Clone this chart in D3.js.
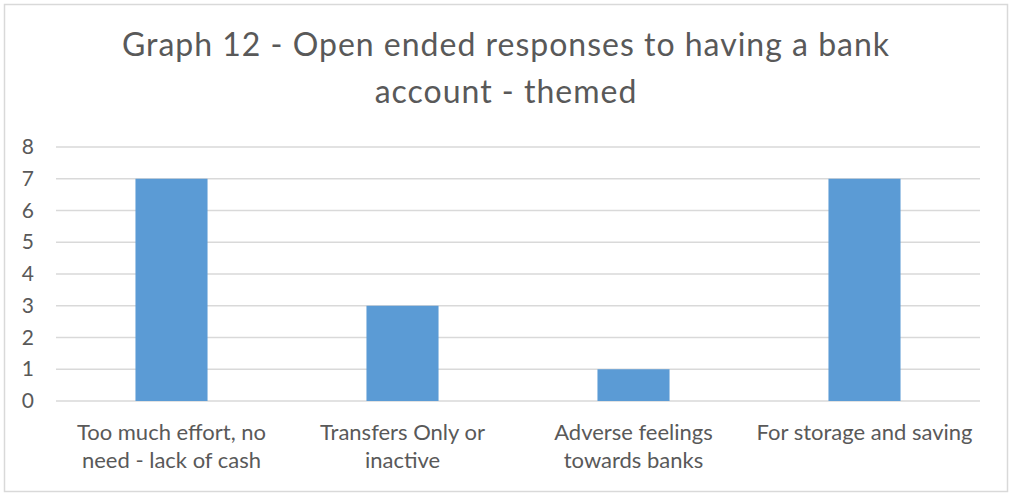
<!DOCTYPE html>
<html>
<head>
<meta charset="utf-8">
<script src="https://cdn.jsdelivr.net/npm/d3@7"></script>
<style>
  html, body { margin: 0; padding: 0; background: #fff; }
  svg { display: block; font-family: Lato, "Open Sans", sans-serif; }
</style>
</head>
<body>
<svg id="chart" width="1012" height="496"></svg>
<script>
// Themed open-ended responses about having a bank account
const categories = [
  ["Too much effort, no", "need - lack of cash"],
  ["Transfers Only or", "inactive"],
  ["Adverse feelings", "towards banks"],
  ["For storage and saving"]
];
const counts = [7, 3, 1, 7];
const yTicks = [0, 1, 2, 3, 4, 5, 6, 7, 8];
const titleLines = ["Graph 12 - Open ended responses to having a bank", "account - themed"];

const W = 1012, H = 496;
const margin = { top: 147, right: 32, bottom: 95, left: 56 };
const textColor = "#595959";
const gridColor = "#D9D9D9";
const barColor = "#5B9BD5";

const svg = d3.select("#chart");

// chart frame
svg.append("rect")
  .attr("x", 4.5).attr("y", 4.5)
  .attr("width", W - 9).attr("height", H - 9)
  .attr("fill", "#fff")
  .attr("stroke", gridColor).attr("stroke-width", 1.5);

const keys = categories.map(c => c.join(" "));
const x = d3.scaleBand()
  .domain(keys)
  .range([margin.left, W - margin.right])
  .paddingInner(0.688)
  .paddingOuter(0.344);

const y = d3.scaleLinear()
  .domain([0, 8])
  .range([H - margin.bottom, margin.top]);

// title
svg.append("text")
  .attr("text-anchor", "middle")
  .attr("fill", textColor)
  .attr("font-size", 32)
  .attr("letter-spacing", 1)
  .selectAll("tspan")
  .data(titleLines)
  .join("tspan")
  .attr("x", W / 2)
  .attr("y", (d, i) => 56 + i * 47)
  .text(d => d);

// horizontal gridlines
svg.append("g")
  .selectAll("line")
  .data(yTicks)
  .join("line")
  .attr("x1", margin.left).attr("x2", W - margin.right)
  .attr("y1", d => y(d)).attr("y2", d => y(d))
  .attr("stroke", gridColor).attr("stroke-width", 1.5);

// y-axis labels
const yAxis = d3.axisLeft(y).tickValues(yTicks).tickSize(0).tickPadding(0).tickFormat(d3.format("d"));
const gy = svg.append("g").attr("transform", `translate(${margin.left - 22},0)`).call(yAxis);
gy.select(".domain").remove();
gy.selectAll("text")
  .attr("fill", textColor)
  .attr("font-size", 21)
  .attr("font-family", "Lato, sans-serif");

// bars
svg.append("g")
  .selectAll("rect")
  .data(counts)
  .join("rect")
  .attr("x", (d, i) => x(keys[i]))
  .attr("width", x.bandwidth())
  .attr("y", d => y(d))
  .attr("height", d => y(0) - y(d))
  .attr("fill", barColor);

// category labels
const labels = svg.append("g")
  .selectAll("text")
  .data(categories)
  .join("text")
  .attr("text-anchor", "middle")
  .attr("fill", textColor)
  .attr("font-size", 22);
labels.selectAll("tspan")
  .data((d, i) => d.map(line => ({ line, key: keys[i] })))
  .join("tspan")
  .attr("x", d => x(d.key) + x.bandwidth() / 2)
  .attr("y", (d, j) => 440 + j * 28)
  .text(d => d.line);
</script>
</body>
</html>
